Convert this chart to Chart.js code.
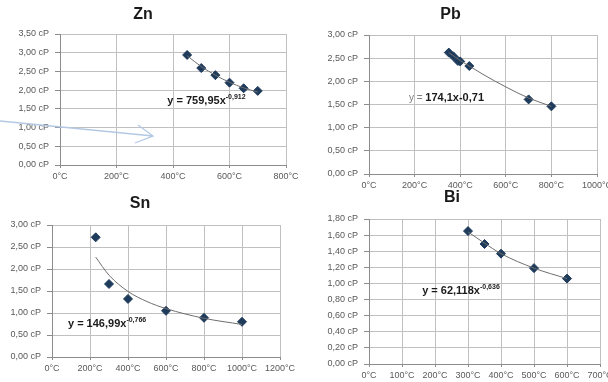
<html>
<head>
<meta charset="utf-8">
<title>Viscosity</title>
<script src="https://cdn.jsdelivr.net/npm/chart.js@4.4.1/dist/chart.umd.min.js"></script>
<style>
  body { margin: 0; background: #fff; overflow: hidden; width: 608px; height: 382px; position: relative; }
  canvas { position: absolute; }
</style>
</head>
<body>
<canvas id="znChart"></canvas>
<canvas id="pbChart"></canvas>
<canvas id="snChart"></canvas>
<canvas id="biChart"></canvas>
<script>
// measured points (temperature °C, viscosity cP)
var znTemp = [450, 500, 550, 600, 650, 700];
var znVisc = [2.94, 2.59, 2.40, 2.20, 2.05, 1.98];
var znTrendTemp = [450, 500, 550, 600, 650, 700];
var znTrendVisc = [2.92, 2.63, 2.40, 2.21, 2.06, 1.95];

var pbTemp = [350, 370, 390, 400, 440, 700, 800];
var pbVisc = [2.62, 2.54, 2.44, 2.43, 2.33, 1.61, 1.46];
var pbTrendTemp = [350, 400, 450, 500, 600, 700, 800];
var pbTrendVisc = [2.62, 2.45, 2.30, 2.15, 1.88, 1.64, 1.46];

var snTemp = [230, 300, 400, 600, 800, 1000];
var snVisc = [2.72, 1.66, 1.32, 1.05, 0.89, 0.80];
var snTrendTemp = [230, 300, 400, 500, 600, 800, 1000];
var snTrendVisc = [2.27, 1.86, 1.49, 1.26, 1.10, 0.88, 0.74];

var biTemp = [300, 350, 400, 500, 600];
var biVisc = [1.65, 1.49, 1.37, 1.19, 1.06];
var biTrendTemp = [300, 350, 400, 500, 600];
var biTrendVisc = [1.64, 1.50, 1.37, 1.19, 1.06];

function pts(xs, ys) {
    return xs.map(function(x, i) { return { x: x, y: ys[i] }; });
}

// equation label drawn at a data position
var eqnPlugin = {
    id: 'eqn',
    afterDatasetsDraw: function(chart, args, opts) {
        var ctx = chart.ctx;
        var x = chart.scales.x.getPixelForValue(opts.x);
        var y = chart.scales.y.getPixelForValue(opts.y);
        ctx.save();
        ctx.textBaseline = 'middle';
        ctx.textAlign = 'left';
        opts.parts.forEach(function(p) {
            ctx.font = (p.bold ? 'bold ' : '') + p.size + 'px "Liberation Sans", Arial, sans-serif';
            ctx.fillStyle = p.color || '#1a1a1a';
            ctx.fillText(p.text, x, y - (p.sup ? 4 : 0));
            x += ctx.measureText(p.text).width;
        });
        ctx.restore();
    }
};

// the light blue arrow pointing into the Zn plot
var arrowPlugin = {
    id: 'arrow',
    afterDraw: function(chart) {
        var ctx = chart.ctx;
        ctx.save();
        ctx.strokeStyle = '#b4c8e4';
        ctx.lineWidth = 1.3;
        ctx.beginPath();
        ctx.moveTo(0, 121);
        ctx.lineTo(153, 136);
        ctx.moveTo(138, 125);
        ctx.lineTo(153, 136);
        ctx.lineTo(135, 143);
        ctx.stroke();
        ctx.restore();
    }
};

function makeChart(id, title, box, plot, titleY, xMax, xStep, yMax, yStep, points, trend, eqn, extra) {
    var cv = document.getElementById(id);
    cv.width = box.w;
    cv.height = box.h;
    cv.style.left = box.l + 'px';
    cv.style.top = box.t + 'px';
    var lh = 16 * 1.2;
    var tickFont = { family: '"Liberation Sans", Arial, sans-serif', size: 9 };
    return new Chart(cv, {
        type: 'scatter',
        data: {
            datasets: [{
                data: trend,
                showLine: true,
                borderColor: '#6e6e6e',
                borderWidth: 1,
                pointRadius: 0,
                cubicInterpolationMode: 'monotone'
            }, {
                data: points,
                pointStyle: 'rectRot',
                pointRadius: 4.5,
                backgroundColor: '#1f3b5c',
                borderColor: '#1f3b5c'
            }]
        },
        options: {
            responsive: false,
            animation: false,
            layout: { padding: { left: 0, top: 0, right: box.l + box.w - plot.R, bottom: 0 } },
            plugins: {
                legend: { display: false },
                tooltip: { enabled: false },
                title: {
                    display: true,
                    text: title,
                    color: '#1a1a1a',
                    font: { family: '"Liberation Sans", Arial, sans-serif', size: 16, weight: 'bold', lineHeight: 1.2 },
                    padding: { top: titleY - box.t - lh / 2, bottom: plot.T - titleY - lh / 2 }
                },
                eqn: eqn
            },
            scales: {
                x: {
                    type: 'linear',
                    min: 0, max: xMax,
                    ticks: { stepSize: xStep, padding: 3, color: '#595959', font: tickFont,
                        maxRotation: 0, autoSkip: false,
                        callback: function(v) { return v + '\u00b0C'; } },
                    grid: { color: '#c0c0c0', tickColor: '#8c8c8c', tickLength: 3 },
                    border: { color: '#8c8c8c' },
                    afterFit: function(s) {
                        s.height = box.t + box.h - plot.B;
                        s.paddingLeft = 0; s.paddingRight = 0;
                    }
                },
                y: {
                    min: 0, max: yMax,
                    ticks: { stepSize: yStep, padding: 6, color: '#595959', font: tickFont,
                        callback: function(v) { return v.toFixed(2).replace('.', ',') + ' cP'; } },
                    grid: { color: '#c0c0c0', tickColor: '#8c8c8c', tickLength: 5 },
                    border: { color: '#8c8c8c' },
                    afterFit: function(s) {
                        s.width = plot.L - box.l;
                        s.paddingTop = 0; s.paddingBottom = 0;
                    }
                }
            }
        },
        plugins: [eqnPlugin].concat(extra || [])
    });
}

makeChart('znChart', 'Zn', { l: 0, t: 0, w: 316, h: 191 }, { L: 60, T: 34, R: 286, B: 165 }, 15,
    800, 200, 3.5, 0.5, pts(znTemp, znVisc), pts(znTrendTemp, znTrendVisc),
    { x: 380, y: 1.71, parts: [{ text: 'y = 759,95x', size: 11, bold: true }, { text: '-0,912', size: 7, bold: true, sup: true }] },
    [arrowPlugin]);

makeChart('pbChart', 'Pb', { l: 304, t: 0, w: 336, h: 191 }, { L: 369, T: 35, R: 597, B: 174 }, 15,
    1000, 200, 3, 0.5, pts(pbTemp, pbVisc), pts(pbTrendTemp, pbTrendVisc),
    { x: 175, y: 1.64, parts: [{ text: 'y = ', size: 10, bold: false, color: '#808080' }, { text: '174,1x-0,71', size: 11, bold: true }] });

makeChart('snChart', 'Sn', { l: 0, t: 191, w: 310, h: 191 }, { L: 52, T: 225, R: 280, B: 357 }, 204,
    1200, 200, 3, 0.5, pts(snTemp, snVisc), pts(snTrendTemp, snTrendVisc),
    { x: 84, y: 0.75, parts: [{ text: 'y = 146,99x', size: 11, bold: true }, { text: '-0,766', size: 7, bold: true, sup: true }] });

makeChart('biChart', 'Bi', { l: 304, t: 183, w: 336, h: 199 }, { L: 369, T: 219, R: 600, B: 364 }, 198,
    700, 100, 1.8, 0.2, pts(biTemp, biVisc), pts(biTrendTemp, biTrendVisc),
    { x: 161, y: 0.91, parts: [{ text: 'y = 62,118x', size: 11, bold: true }, { text: '-0,636', size: 7, bold: true, sup: true }] });
</script>
</body>
</html>
